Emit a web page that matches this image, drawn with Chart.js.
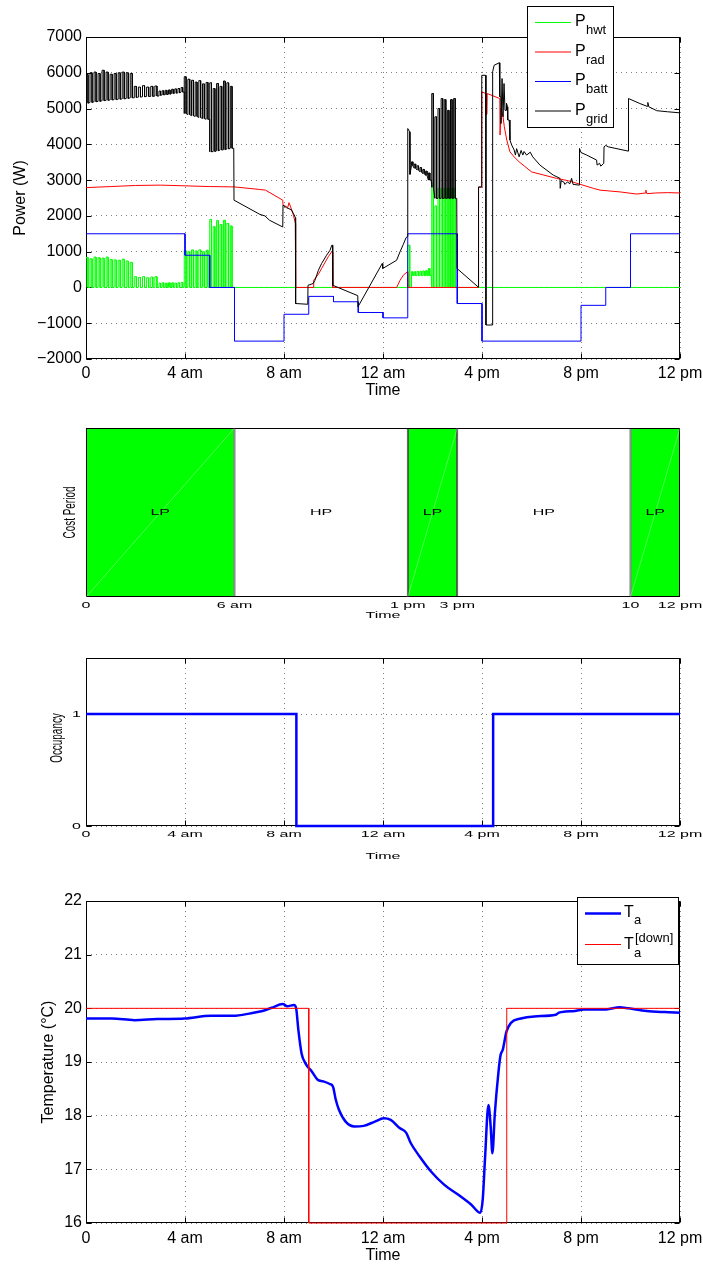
<!DOCTYPE html>
<html><head><meta charset="utf-8">
<script src="https://cdn.jsdelivr.net/npm/chart.js@4/dist/chart.umd.min.js"></script>
<style>
html,body{margin:0;padding:0;background:#fff;}
body{width:703px;height:1265px;position:relative;overflow:hidden;}
canvas{position:absolute;left:0;}
</style></head><body>
<canvas id="c1" width="703" height="400" style="top:0;width:703px;height:400px"></canvas>
<canvas id="c2" width="703" height="240" style="top:400px;width:703px;height:240px"></canvas>
<canvas id="c3" width="703" height="230" style="top:640px;width:703px;height:230px"></canvas>
<canvas id="c4" width="703" height="395" style="top:870px;width:703px;height:395px"></canvas>
<script>
// ================= DATA =================
const timeTickVals = [0, 4, 8, 12, 16, 20, 24];
const timeTickLabels = ['0', '4 am', '8 am', '12 am', '4 pm', '8 pm', '12 pm'];

// --- Power plot ---
const powerLegendSubs = ['hwt', 'rad', 'batt', 'grid'];
const powerColors = ['#00ff00', '#ff0000', '#0000ff', '#000000'];

// Pulse trains (on/off cycling) : start hour, end hour
const trainStart = [0, 1.95, 2.95, 3.97, 5.0, 13.15, 13.97];
const trainEnd   = [1.95, 2.95, 3.97, 5.0, 5.97, 13.95, 14.98];
// P_hwt peaks and base level in each train
const hwtPeaks = [
  [840, 800, 850, 830, 820, 850, 780, 770, 760, 790, 740, 700],
  [300, 280, 300, 270, 290, 300],
  [120, 130, 120, 130, 130, 120, 130, 140],
  [1030, 1000, 1050, 1020, 1050, 1000, 1040],
  [1900, 1700, 1870, 1760, 1880, 1790, 1720],
  [440, 440, 450, 450, 460, 470, 530],
  [2900, 2280, 2770, 2770, 2770, 2770, 2770, 2770]
];
const hwtBase = [0, 0, 0, 0, 0, 330, 0];
// P_grid peaks / lows in each train
const gridPeaks = [
  [5950, 6000, 6020, 5980, 6070, 6020, 5960, 5980, 6000, 6020, 6000, 5980],
  [5620, 5600, 5640, 5600, 5620, 5630],
  [5490, 5500, 5510, 5520, 5540, 5550, 5560, 5590],
  [5890, 5820, 5790, 5740, 5780, 5690, 5730],
  [5720, 5560, 5700, 5620, 5770, 5720, 5620],
  [3510, 3450, 3400, 3350, 3300, 3250, 3200],
  [5420, 4770, 5000, 5280, 5250, 4950, 5250, 5280]
];
const gridLows = [
  [5150, 5170, 5190, 5200, 5220, 5230, 5240, 5250, 5260, 5270, 5280, 5300],
  [5310, 5320, 5330, 5340, 5340, 5350],
  [5370, 5380, 5390, 5400, 5420, 5430, 5440, 5460],
  [4860, 4830, 4800, 4780, 4750, 4720, 4700],
  [3790, 3800, 3820, 3840, 3850, 3870, 3890],
  [3400, 3330, 3280, 3230, 3180, 3130, 3000],
  [2800, 2490, 2490, 2490, 2490, 2490, 2490, 2490]
];
// P_hwt outside trains
const hwtMidX = [5.97, 13.0, 13.0, 13.08, 13.08, 13.15];
const hwtMidY = [0, 0, 1180, 1180, 0, 0];
const hwtTailX = [14.98, 24];
const hwtTailY = [0, 0];
// P_grid outside trains
const gridMidX = [5.98, 7.03, 7.23, 7.41, 7.95, 7.96, 8.1, 8.2, 8.3, 8.38, 8.46, 8.47, 8.96, 8.97, 9.18, 9.25, 9.39, 9.52, 9.72, 9.86, 9.93, 9.96, 9.97, 10.98, 10.99, 11.97, 11.99, 12.55, 12.69, 12.82, 12.93, 12.99, 13.0, 13.08, 13.09, 13.15];
const gridMidY = [2440, 2040, 2000, 1880, 1690, 2300, 2230, 2200, 2170, 2070, 1950, -450, -470, 60, 110, 200, 480, 670, 900, 1040, 1180, 1180, 60, -230, -540, 670, 530, 760, 1000, 1200, 1390, 1420, 4440, 4350, 3160, 3400];
const gridTailX = [14.98, 14.99, 15.85, 15.86, 15.98, 15.99, 16.15, 16.16, 16.42, 16.43, 16.49, 16.7, 16.72, 16.76, 16.77, 16.8, 16.81, 16.84, 16.85, 16.88, 16.89, 16.92, 16.93, 16.98, 16.99, 17.03, 17.04, 17.1, 17.13, 17.2, 17.3, 17.35, 17.4, 17.5, 17.58, 17.65, 17.7, 17.8, 17.95, 18.05, 18.34, 18.88, 19.15, 19.16, 19.2, 19.3, 19.35, 19.45, 19.55, 19.62, 19.68, 19.93, 19.94, 20.0, 20.23, 20.63, 20.65, 20.75, 20.8, 20.92, 20.93, 21.0, 21.1, 21.37, 21.91, 21.92, 22.38, 22.68, 22.7, 22.74, 23.06, 23.5, 24];
const gridTailY = [2490, 530, 10, 2810, 2810, 5930, 5930, -1050, -1050, 6030, 6210, 6280, 5330, 5330, 4580, 4580, 5840, 5840, 4770, 4770, 5700, 5700, 4950, 4950, 5150, 5050, 4680, 4680, 4120, 3980, 3840, 3700, 3880, 3650, 3830, 3700, 3800, 3700, 3780, 3650, 3420, 3140, 3050, 2770, 2980, 2950, 2880, 2950, 2900, 3050, 2880, 2860, 3885, 3770, 3700, 3560, 3420, 3470, 3390, 3470, 3930, 3970, 3930, 3890, 3810, 5280, 5140, 5060, 5170, 5050, 4940, 4910, 4880];
// P_rad
const radX = [0, 1, 2, 3, 4, 5, 6, 7, 7.25, 7.6, 7.95, 7.96, 8.1, 8.15, 8.2, 8.27, 8.38, 8.46, 8.47, 9.18, 9.2, 9.39, 9.52, 9.65, 9.79, 9.93, 9.96, 9.97, 12.55, 12.69, 12.82, 12.99, 13.0, 15.85, 15.86, 15.98, 15.99, 16.15, 16.16, 16.2, 16.21, 16.72, 16.73, 16.76, 16.77, 16.85, 16.9, 17.0, 17.13, 17.3, 17.5, 17.7, 18.0, 18.5, 19.0, 19.5, 19.93, 20.5, 20.77, 21.58, 22.25, 22.6, 22.62, 22.66, 23.0, 23.5, 24];
const radY = [2790, 2820, 2850, 2860, 2840, 2820, 2810, 2740, 2720, 2580, 2440, 2300, 2260, 2230, 2370, 2250, 2020, 1790, 0, 0, 200, 370, 530, 690, 860, 1000, 1000, 0, 0, 200, 340, 440, 0, 0, 2800, 2800, 5470, 5420, 4840, 4840, 5420, 5280, 4260, 4260, 5000, 4770, 4500, 4120, 3790, 3650, 3510, 3400, 3230, 3140, 3050, 2980, 2890, 2770, 2720, 2670, 2610, 2640, 2720, 2620, 2640, 2650, 2640];
// P_batt (step: value held from time[i] to time[i+1])
const battTimes = [0, 4, 5, 6, 8, 9, 10, 11, 12, 13, 15, 16, 20, 21, 22, 24];
const battVals  = [1500, 900, 0, -1500, -750, -250, -400, -700, -850, 1500, -450, -1500, -500, 0, 1500];

// --- Cost period plot ---
const costStarts = [0, 6, 13, 15, 22];
const costEnds   = [6, 13, 15, 22, 24];
const costLabels = ['LP', 'HP', 'LP', 'HP', 'LP'];
const costTickVals = [0, 6, 13, 15, 22, 24];
const costTickLabels = ['0', '6 am', '1 pm', '3 pm', '10', '12 pm'];

// --- Occupancy plot ---
const occTimes = [0, 8.5, 16.45, 24];
const occVals  = [1, 0, 1];
const occTickVals = [0, 1];

// --- Temperature plot ---
const taHours = [0,1.05,1.96,2.87,3.97,5.05,5.95,6.68,7.13,7.5,7.95,8.13,8.4,8.49,8.58,8.71,8.86,9.13,9.36,9.58,9.85,9.98,10.09,10.22,10.49,10.85,11.22,11.67,12.03,12.31,12.67,12.94,13.12,13.48,13.94,14.48,15.03,15.57,15.93,16.03,16.12,16.26,16.35,16.42,16.52,16.66,16.75,16.84,16.99,17.17,17.57,18.11,18.98,19.11,19.38,19.75,20.11,21.02,21.56,21.92,22.65,23.38,24];
const taVals  = [19.81,19.81,19.78,19.8,19.81,19.86,19.86,19.91,19.95,20.01,20.08,20.04,20.06,20.0,19.6,19.16,18.98,18.82,18.67,18.64,18.59,18.54,18.3,18.11,17.89,17.8,17.81,17.89,17.95,17.92,17.77,17.68,17.49,17.24,16.96,16.71,16.53,16.34,16.19,16.44,17.18,18.2,17.8,17.3,18.05,18.79,19.13,19.23,19.57,19.73,19.81,19.85,19.88,19.92,19.94,19.95,19.98,19.98,20.02,20.0,19.95,19.93,19.92];
const tdownTimes = [0, 9, 17, 24];
const tdownVals  = [20, 16, 20];

// ================= HELPERS =================
const FONT = "'Liberation Sans', Arial, Helvetica, sans-serif";
Chart.defaults.font.family = FONT;
Chart.defaults.color = '#000';
const GRIDC = 'rgba(0,0,0,0.5)';
const DASH = [1, 4];

function xy(xs, ys) { return xs.map((x, i) => ({x: x, y: ys[i]})); }
function steps(ts, vs) {
  const p = [];
  vs.forEach((v, i) => { p.push({x: ts[i], y: v}, {x: ts[i + 1], y: v}); });
  return p;
}
function train(pts, t0, t1, peaks, lows) {
  const n = peaks.length, per = (t1 - t0) / n;
  const lo = i => Array.isArray(lows) ? lows[i] : lows;
  for (let i = 0; i < n; i++) {
    const a = t0 + i * per, b = a + per / 2;
    pts.push({x: a, y: lo(i)}, {x: a, y: peaks[i]}, {x: b, y: peaks[i]}, {x: b, y: lo(i)});
  }
  pts.push({x: t1, y: lo(n - 1)});
}
function line(ctx, x1, y1, x2, y2) { ctx.beginPath(); ctx.moveTo(x1, y1); ctx.lineTo(x2, y2); ctx.stroke(); }
function timeLabel(v) { const i = timeTickVals.indexOf(v); return i >= 0 ? timeTickLabels[i] : ''; }
function sq(ctx, txt, x, y, rot, align) {
  ctx.save(); ctx.translate(x, y);
  if (rot) { ctx.rotate(-Math.PI / 2); ctx.scale(0.62, 1); } else { ctx.scale(1, 0.62); }
  ctx.font = '16px ' + FONT; ctx.fillStyle = '#000';
  ctx.textAlign = align || 'center'; ctx.textBaseline = 'middle';
  ctx.fillText(txt, 0, 0); ctx.restore();
}

// build series
const hwtPts = [], gridPts = [];
for (let k = 0; k < 5; k++) { train(hwtPts, trainStart[k], trainEnd[k], hwtPeaks[k], hwtBase[k]); train(gridPts, trainStart[k], trainEnd[k], gridPeaks[k], gridLows[k]); }
hwtPts.push(...xy(hwtMidX, hwtMidY)); gridPts.push(...xy(gridMidX, gridMidY));
for (let k = 5; k < 7; k++) { train(hwtPts, trainStart[k], trainEnd[k], hwtPeaks[k], hwtBase[k]); train(gridPts, trainStart[k], trainEnd[k], gridPeaks[k], gridLows[k]); }
hwtPts.push(...xy(hwtTailX, hwtTailY)); gridPts.push(...xy(gridTailX, gridTailY));
const radPts = xy(radX, radY);
const battPts = steps(battTimes, battVals);

// ================= PLUGINS =================
const boxPlugin = {
  id: 'box',
  beforeDatasetsDraw(chart, args, opts) {
    const {ctx, chartArea: a} = chart;
    const L = Math.round(a.left) + 0.5, R = Math.round(a.right) - 0.5, T = Math.round(a.top) + 0.5, B = Math.round(a.bottom) - 0.5;
    ctx.save(); ctx.strokeStyle = '#000'; ctx.lineWidth = 1; ctx.setLineDash([]);
    ctx.strokeRect(L, T, R - L, B - T);
    if (opts && opts.ticks) {
      const tl = 5, xs = chart.scales.x, ys = chart.scales.y;
      xs.ticks.forEach(t => { const px = Math.round(xs.getPixelForValue(t.value)) + 0.5; line(ctx, px, B, px, B - tl); line(ctx, px, T, px, T + tl); });
      ys.ticks.forEach(t => { const py = Math.round(ys.getPixelForValue(t.value)) + 0.5; line(ctx, L, py, L + tl, py); line(ctx, R, py, R - tl, py); });
    }
    ctx.restore();
  }
};

const powerLegend = {
  id: 'powerLegend',
  afterDraw(chart) {
    const ctx = chart.ctx; ctx.save();
    ctx.fillStyle = '#fff'; ctx.fillRect(527.5, 6.5, 86, 121);
    ctx.strokeStyle = '#000'; ctx.lineWidth = 1; ctx.strokeRect(527.5, 6.5, 86, 121);
    powerLegendSubs.forEach((s, i) => {
      const y = 22.5 + i * 29.5;
      ctx.strokeStyle = powerColors[i]; ctx.lineWidth = 1; line(ctx, 535, y, 571, y);
      ctx.fillStyle = '#000'; ctx.textAlign = 'left'; ctx.textBaseline = 'alphabetic';
      ctx.font = '16px ' + FONT; ctx.fillText('P', 575, y + 3.5);
      ctx.font = '13px ' + FONT; ctx.fillText(s, 586, y + 11.5);
    });
    ctx.restore();
  }
};

const tempLegend = {
  id: 'tempLegend',
  afterDraw(chart) {
    const ctx = chart.ctx; ctx.save();
    const oy = -870;
    ctx.fillStyle = '#fff'; ctx.fillRect(577.5, 897.5 + oy, 101, 67);
    ctx.strokeStyle = '#000'; ctx.lineWidth = 1; ctx.strokeRect(577.5, 897.5 + oy, 101, 67);
    ctx.strokeStyle = '#0000ff'; ctx.lineWidth = 2.5; line(ctx, 585, 913.5 + oy, 621, 913.5 + oy);
    ctx.strokeStyle = '#ff0000'; ctx.lineWidth = 1; line(ctx, 585, 944.5 + oy, 621, 944.5 + oy);
    ctx.fillStyle = '#000'; ctx.textAlign = 'left'; ctx.textBaseline = 'alphabetic';
    ctx.font = '16px ' + FONT; ctx.fillText('T', 624, 916.5 + oy); ctx.fillText('T', 624, 948.5 + oy);
    ctx.font = '13px ' + FONT; ctx.fillText('a', 634, 924 + oy); ctx.fillText('a', 634, 957 + oy);
    ctx.fillText('[down]', 635, 941.5 + oy);
    ctx.restore();
  }
};

const costText = {
  id: 'costText',
  afterDatasetsDraw(chart) {
    const {ctx, chartArea: a, scales: {x}} = chart;
    ctx.save();
    chart.data.datasets.forEach((ds, i) => {
      const el = chart.getDatasetMeta(i).data[0];
      const l = Math.min(el.x, el.base), r = Math.max(el.x, el.base);
      if (costLabels[i] === 'LP') { ctx.strokeStyle = 'rgba(255,255,255,0.45)'; ctx.lineWidth = 0.7; line(ctx, l, a.bottom, r, a.top); }
      sq(ctx, costLabels[i], (l + r) / 2, (a.top + a.bottom) / 2, false);
    });
    x.ticks.forEach(t => { const i = costTickVals.indexOf(t.value); sq(ctx, costTickLabels[i], x.getPixelForValue(t.value), 205, false); });
    sq(ctx, 'Time', (a.left + a.right) / 2, 215, false);
    sq(ctx, 'Cost Period', 71, (a.top + a.bottom) / 2, true);
    ctx.restore();
  }
};

const occText = {
  id: 'occText',
  afterDraw(chart) {
    const {ctx, chartArea: a, scales: {x, y}} = chart;
    x.ticks.forEach(t => sq(ctx, timeLabel(t.value), x.getPixelForValue(t.value), 194, false));
    y.ticks.forEach(t => sq(ctx, String(t.value), 81, y.getPixelForValue(t.value), false, 'right'));
    sq(ctx, 'Time', (a.left + a.right) / 2, 216, false);
    sq(ctx, 'Occupancy', 58, (a.top + a.bottom) / 2 - 4, true);
  }
};

const fitX = h => (s => { s.height = h; s.paddingLeft = 0; s.paddingRight = 0; });
const fitY = w => (s => { s.width = w; });
const base = {responsive: false, animation: false, events: [],
  elements: {point: {radius: 0}, line: {tension: 0, fill: false, borderWidth: 1}}};

// ================= CHART 1: Power =================
new Chart(document.getElementById('c1'), {
  type: 'line',
  data: {datasets: [
    {label: 'P_grid', data: gridPts, borderColor: powerColors[3], order: 0},
    {label: 'P_batt', data: battPts, borderColor: powerColors[2], order: 1},
    {label: 'P_rad', data: radPts, borderColor: powerColors[1], order: 2},
    {label: 'P_hwt', data: hwtPts, borderColor: powerColors[0], order: 3}
  ]},
  options: Object.assign({}, base, {
    layout: {padding: {left: 0, right: 23, top: 37, bottom: 0}},
    plugins: {legend: {display: false}, tooltip: {enabled: false}, box: {ticks: true}},
    scales: {
      x: {type: 'linear', min: 0, max: 24,
        ticks: {stepSize: 4, padding: 5, font: {size: 16}, callback: v => timeLabel(v), maxRotation: 0},
        grid: {color: GRIDC, drawTicks: false}, border: {display: false, dash: DASH},
        title: {display: true, text: 'Time', font: {size: 16, lineHeight: 1.2}, padding: {top: 0, bottom: 0}},
        afterFit: fitX(41)},
      y: {type: 'linear', min: -2000, max: 7000,
        ticks: {stepSize: 1000, padding: 4, font: {size: 16}, callback: v => (v < 0 ? '\u2212' : '') + Math.abs(v)},
        grid: {color: GRIDC, drawTicks: false}, border: {display: false, dash: DASH},
        title: {display: true, text: 'Power (W)', font: {size: 16, lineHeight: 1.2}, padding: {top: 11, bottom: 0}},
        afterFit: fitY(86)}
    }
  }),
  plugins: [boxPlugin, powerLegend]
});

// ================= CHART 2: Cost period =================
new Chart(document.getElementById('c2'), {
  type: 'bar',
  data: {labels: ['Cost'], datasets: costStarts.map((s, i) => ({
    label: costLabels[i], data: [[s, costEnds[i]]],
    backgroundColor: costLabels[i] === 'LP' ? '#00ff00' : '#ffffff',
    borderColor: '#000', borderWidth: 1, borderSkipped: false, grouped: false,
    barPercentage: 1, categoryPercentage: 1, inflateAmount: 0
  }))},
  options: Object.assign({}, base, {
    indexAxis: 'y',
    layout: {padding: {left: 0, right: 23, top: 28, bottom: 0}},
    plugins: {legend: {display: false}, tooltip: {enabled: false}, box: {ticks: false}},
    scales: {
      x: {type: 'linear', min: 0, max: 24, ticks: {display: false},
        afterBuildTicks: s => { s.ticks = costTickVals.map(v => ({value: v})); },
        grid: {display: false}, border: {display: false}, afterFit: fitX(43)},
      y: {type: 'category', ticks: {display: false}, grid: {display: false}, border: {display: false}, afterFit: fitY(86)}
    }
  }),
  plugins: [boxPlugin, costText]
});

// ================= CHART 3: Occupancy =================
new Chart(document.getElementById('c3'), {
  type: 'line',
  data: {datasets: [{label: 'Occupancy', data: steps(occTimes, occVals), borderColor: '#0000ff', borderWidth: 2.5, clip: false}]},
  options: Object.assign({}, base, {
    layout: {padding: {left: 0, right: 23, top: 18, bottom: 0}},
    plugins: {legend: {display: false}, tooltip: {enabled: false}, box: {ticks: true}},
    scales: {
      x: {type: 'linear', min: 0, max: 24, ticks: {display: false, stepSize: 4},
        grid: {color: GRIDC, drawTicks: false}, border: {display: false, dash: DASH}, afterFit: fitX(44)},
      y: {type: 'linear', min: 0, max: 1.5, ticks: {display: false},
        afterBuildTicks: s => { s.ticks = occTickVals.map(v => ({value: v})); },
        grid: {color: GRIDC, drawTicks: false}, border: {display: false, dash: DASH}, afterFit: fitY(86)}
    }
  }),
  plugins: [boxPlugin, occText]
});

// ================= CHART 4: Temperature =================
new Chart(document.getElementById('c4'), {
  type: 'line',
  data: {datasets: [
    {label: 'T_a', data: xy(taHours, taVals), borderColor: '#0000ff', borderWidth: 2.5, cubicInterpolationMode: 'monotone', clip: false, order: 1},
    {label: 'T_a_down', data: steps(tdownTimes, tdownVals), borderColor: '#ff0000', borderWidth: 1, clip: false, order: 0}
  ]},
  options: Object.assign({}, base, {
    layout: {padding: {left: 0, right: 23, top: 31, bottom: 0}},
    plugins: {legend: {display: false}, tooltip: {enabled: false}, box: {ticks: true}},
    scales: {
      x: {type: 'linear', min: 0, max: 24,
        ticks: {stepSize: 4, padding: 6, font: {size: 16}, callback: v => timeLabel(v), maxRotation: 0},
        grid: {color: GRIDC, drawTicks: false}, border: {display: false, dash: DASH},
        title: {display: true, text: 'Time', font: {size: 16, lineHeight: 1.2}, padding: {top: 0, bottom: 0}},
        afterFit: fitX(42)},
      y: {type: 'linear', min: 16, max: 22,
        ticks: {stepSize: 1, padding: 4, font: {size: 16}},
        grid: {color: GRIDC, drawTicks: false}, border: {display: false, dash: DASH},
        title: {display: true, text: 'Temperature (°C)', font: {size: 16, lineHeight: 1.2}, padding: {top: 39.4, bottom: 0}},
        afterFit: fitY(86)}
    }
  }),
  plugins: [boxPlugin, tempLegend]
});
</script>
</body></html>
